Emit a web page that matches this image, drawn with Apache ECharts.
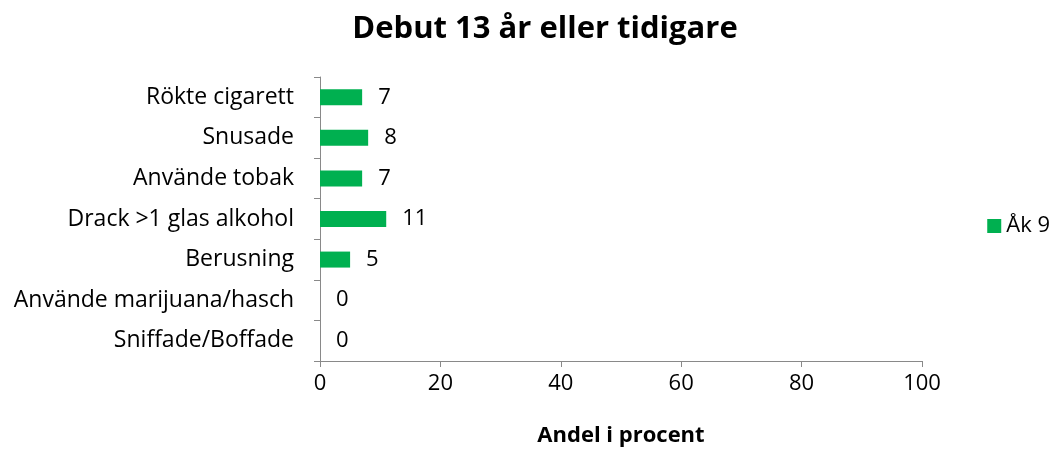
<!DOCTYPE html>
<html>
<head>
<meta charset="utf-8">
<script src="https://cdn.jsdelivr.net/npm/echarts@6/dist/echarts.min.js"></script>
<style>
  html, body { margin: 0; padding: 0; background: #fff; }
  #chart { width: 1057px; height: 452px; }
</style>
</head>
<body>
<div id="chart"></div>
<script>
// data
const categories = [
  'Rökte cigarett',
  'Snusade',
  'Använde tobak',
  'Drack >1 glas alkohol',
  'Berusning',
  'Använde marijuana/hasch',
  'Sniffade/Boffade'
]
const values = [7, 8, 7, 11, 5, 0, 0]
const seriesName = 'Åk 9'
const xTicks = [0, 20, 40, 60, 80, 100]

const font = '"Open Sans", Lato, sans-serif'
const axisColor = '#898989'

const chart = echarts.init(document.getElementById('chart'))

chart.setOption({
  animation: false,
  title: {
    text: 'Debut 13 år eller tidigare',
    left: 540,
    textAlign: 'center',
    top: 9,
    textStyle: { fontFamily: font, fontSize: 31, fontWeight: 'bold', color: '#000' }
  },
  legend: {
    data: [seriesName],
    right: 2,
    top: 'middle',
    orient: 'vertical',
    icon: 'rect',
    itemWidth: 14,
    itemHeight: 14,
    itemGap: 8,
    textStyle: { fontFamily: font, fontSize: 22, color: '#000' }
  },
  grid: {
    left: 320,
    right: 135,
    top: 77,
    bottom: 87,
    containLabel: false
  },
  xAxis: {
    type: 'value',
    min: 0,
    max: 100,
    interval: 20,
    name: 'Andel i procent',
    nameLocation: 'middle',
    nameGap: 64,
    nameTextStyle: { fontFamily: font, fontSize: 22, fontWeight: 'bold', color: '#000' },
    axisLine: { show: true, lineStyle: { color: axisColor, width: 1 } },
    axisTick: { show: true, length: 6, lineStyle: { color: axisColor } },
    axisLabel: {
      margin: 12,
      fontFamily: font,
      fontSize: 22,
      color: '#000',
      formatter: v => (xTicks.includes(v) ? String(v) : '')
    },
    splitLine: { show: false }
  },
  yAxis: {
    type: 'category',
    data: categories,
    inverse: true,
    axisLine: { show: true, lineStyle: { color: axisColor, width: 1 } },
    axisTick: { show: true, length: 6, alignWithLabel: false, lineStyle: { color: axisColor } },
    axisLabel: { margin: 26, fontFamily: font, fontSize: 23, color: '#000' },
    splitLine: { show: false }
  },
  series: [
    {
      name: seriesName,
      type: 'bar',
      data: values,
      barWidth: 16,
      itemStyle: { color: '#00B050' },
      label: {
        show: true,
        position: 'right',
        distance: 16,
        fontFamily: font,
        fontSize: 22,
        color: '#000'
      }
    }
  ]
})
</script>
</body>
</html>
